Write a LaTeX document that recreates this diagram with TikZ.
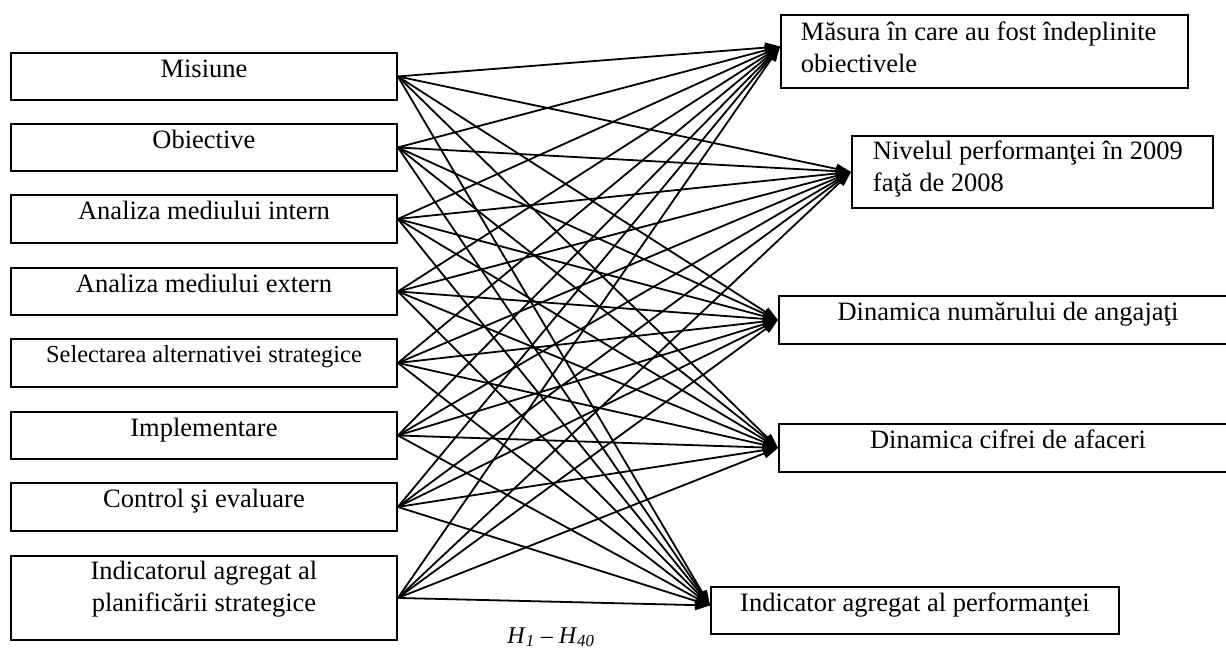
\documentclass[tikz,border=0pt]{standalone}
\usepackage{fontspec}
\setmainfont{Liberation Serif}
\usetikzlibrary{arrows.meta}
\newcommand\fsA{\fontsize{26.5}{32}\selectfont}
\newcommand\fsB{\fontsize{24.4}{30}\selectfont}
\newcommand\fsC{\fontsize{24}{28}\selectfont}
\begin{document}
\begin{tikzpicture}[x=1pt,y=-1pt,
  box/.style={draw, line width=1.9pt, inner xsep=0pt, inner ysep=0pt, anchor=north west, font=\fsA},
  lbox/.style={box, minimum width=386pt, text height=25pt, text depth=22pt},
  conn/.style={line width=1.8pt, -{Triangle[length=15pt,width=10pt]}}]
\path[use as bounding box, clip] (0,0) rectangle (1226,653);
% left boxes
\node[lbox] (l1) at (10,52) {Misiune};
\node[lbox] (l2) at (10,123) {Obiective};
\node[lbox, text depth=23pt] (l3) at (10,194) {Analiza mediului intern};
\node[lbox] (l4) at (10,267) {Analiza mediului extern};
\node[lbox, font=\fsB, text height=24pt, text depth=24pt] (l5) at (10,338) {Selectarea alternativei strategice};
\node[lbox] (l6) at (10,411) {Implementare};
\node[lbox, text depth=23pt] (l7) at (10,482) {Control şi evaluare};
\node[lbox, text height=24pt, text depth=60pt] (l8) at (10,555) {\begin{tabular}[t]{@{}c@{}}Indicatorul agregat al\\planificării strategice\end{tabular}};
% right boxes
\node[box, inner xsep=20pt, text height=26pt, text depth=47pt] (r1) at (780,14)
  {\makebox[367pt][l]{\begin{tabular}[t]{@{}l@{}}Măsura în care au fost îndeplinite\\obiectivele\end{tabular}}};
\node[box, inner xsep=21pt, text height=24pt, text depth=48pt] (r2) at (851,135)
  {\makebox[319pt][l]{\begin{tabular}[t]{@{}l@{}}Nivelul performanţei în 2009\\faţă de 2008\end{tabular}}};
\node[box, minimum width=458pt, text height=25pt, text depth=23pt] (r3) at (778,295) {Dinamica numărului de angajaţi};
\node[box, minimum width=458pt, text height=25pt, text depth=23pt] (r4) at (778,423) {Dinamica cifrei de afaceri};
\node[box, minimum width=408pt, text height=25pt, text depth=22pt] (r5) at (710,586) {Indicator agregat al performanţei};
% connectors H1 - H40
\foreach \i in {1,...,8}{
  \draw[conn] (l\i.east) -- ([yshift=5pt]r1.west);
  \draw[conn] (l\i.east) -- (r2.west);
  \draw[conn] (l\i.east) -- (r3.west);
  \draw[conn] (l\i.east) -- (r4.west);
  \draw[conn] (l\i.east) -- ([yshift=5pt]r5.west);
}
\node[font=\fsC, anchor=base, inner sep=0pt] (h) at (551,643) {\textit{H}\textsubscript{\textit{1}} – \textit{H}\textsubscript{\textit{40}}};
\end{tikzpicture}
\end{document}
